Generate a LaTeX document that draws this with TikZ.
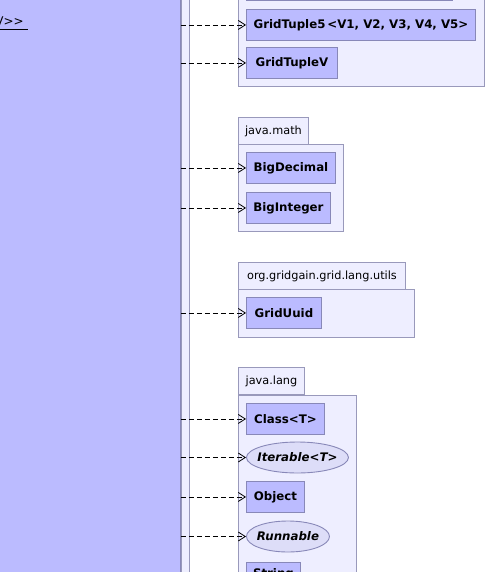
\documentclass[tikz,border=0pt]{standalone}
\usepackage{fontspec}
\setmainfont{DejaVu Sans}
\usetikzlibrary{arrows.meta,shapes.geometric,positioning}
\definecolor{clsfill}{HTML}{BBBBFF}
\definecolor{clsline}{HTML}{8888B8}
\definecolor{pkgfill}{HTML}{EEEEFF}
\definecolor{pkgline}{HTML}{9999BB}
\definecolor{ifill}{HTML}{DDDDF8}
\tikzset{
  cls/.style={draw=clsline, fill=clsfill, line width=0.9pt, inner sep=0pt, anchor=north west,
    font=\fontsize{11.8}{13}\selectfont\bfseries, minimum height=31pt},
  iface/.style={ellipse, draw=clsline, fill=ifill, line width=0.9pt, inner xsep=-14pt, inner ysep=-6pt, anchor=west,
    font=\fontsize{11.8}{13}\selectfont\bfseries\itshape, minimum height=31pt},
  pkg/.style={draw=pkgline, fill=pkgfill, line width=0.9pt, inner sep=0pt, anchor=north west},
  pkgtab/.style={pkg, font=\fontsize{11.3}{13}\selectfont, minimum height=27pt},
  dep/.style={dashed, dash pattern=on 5pt off 3pt, line width=0.8pt, -{Straight Barb[length=7pt,width=9pt,line width=0.8pt]}},
}
\begin{document}
\begin{tikzpicture}[x=1pt,y=-1pt]
\useasboundingbox (0,0) rectangle (485,572);
\clip (0,0) rectangle (485,572);
% main class
\node[draw=clsline, fill=clsfill, line width=0.9pt, inner sep=0pt, anchor=north west,
  minimum width=181pt, minimum height=600pt] (main) at (-1,-10) {};
\node[draw=pkgline, fill=pkgfill, line width=0.9pt, inner sep=0pt, anchor=north west,
  minimum width=8pt, minimum height=600pt] (strip) at (180.5,-10) {};
\node[anchor=base east, font=\fontsize{12}{13}\selectfont, inner sep=0pt] (ttl) at (24,26) {V>{}>};
\draw[line width=0.8pt] (0,29.5) -- (28,29.5);
% package grid lang (top)
\node[pkg, minimum width=246pt, minimum height=96pt] (p1) at (238,-10) {};
\node[cls, minimum width=206pt] (prev) at (246,-31) {};
\node[cls, minimum width=229pt] (t5) at (246,9) {GridTuple5\,<V1, V2, V3, V4, V5>};
\node[cls, minimum width=91pt] (tv) at (246,47) {GridTupleV};
% java.math
\node[pkgtab, minimum width=70pt] (m0) at (238,117) {java.math};
\node[pkg, minimum width=105pt, minimum height=87pt] (m1) at (238,144) {};
\node[cls, minimum width=89pt] (bd) at (246,152) {BigDecimal};
\node[cls, minimum width=84pt] (bi) at (246,192) {BigInteger};
% org.gridgain.grid.lang.utils
\node[pkgtab, minimum width=167pt] (u0) at (238,262) {org.gridgain.grid.lang.utils};
\node[pkg, minimum width=176pt, minimum height=48pt] (u1) at (238,289) {};
\node[cls, minimum width=75pt] (uu) at (246,297) {GridUuid};
% java.lang
\node[pkgtab, minimum width=66pt] (l0) at (238,367) {java.lang};
\node[pkg, minimum width=118pt, minimum height=200pt] (l1) at (238,395) {};
\node[cls, minimum width=78pt] (cl) at (246,403) {Class<T>};
\node[iface, minimum width=102pt] (it) at (246,457.5) {Iterable<T>};
\node[cls, minimum width=58pt] (ob) at (246,481) {Object};
\node[iface, minimum width=83pt] (ru) at (246,536.5) {Runnable};
\node[cls, minimum width=54pt, minimum height=24pt] (st) at (246,562) {String};
% dependencies
\foreach \n in {t5,tv,bd,bi,uu,cl,it,ob,ru}
  \draw[dep] (main.east |- \n.west) -- (\n.west);
\end{tikzpicture}
\end{document}
